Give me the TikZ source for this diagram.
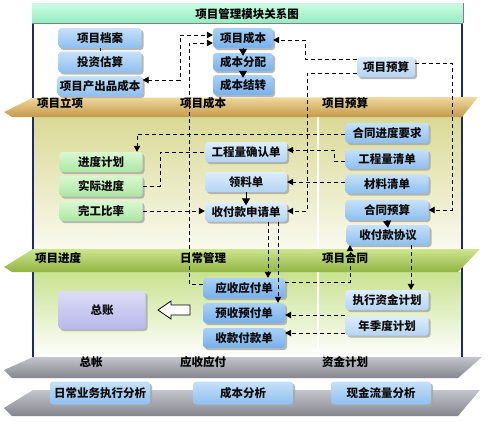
\documentclass[tikz,border=0pt]{standalone}
\usepackage{fontspec}
\newfontfamily\cjk{Noto Sans CJK SC}
\usetikzlibrary{shadows,arrows.meta,calc}
\definecolor{navyb}{HTML}{1C2A6E}
\definecolor{aT}{HTML}{C6E1FA}\definecolor{aB}{HTML}{8EBFEF}
\definecolor{bT}{HTML}{A9D1F8}\definecolor{bB}{HTML}{78B0EA}
\definecolor{cT}{HTML}{DDEDFB}\definecolor{cB}{HTML}{B4D4F3}
\definecolor{gT}{HTML}{DAF8D2}\definecolor{gB}{HTML}{ACE6A4}
\definecolor{lT}{HTML}{DCDCF8}\definecolor{lB}{HTML}{B8B8EA}
\definecolor{oT}{HTML}{F0D9A0}\definecolor{oM}{HTML}{D8B264}\definecolor{oB}{HTML}{C49A48}
\definecolor{grT}{HTML}{CDE58E}\definecolor{grM}{HTML}{B4D068}\definecolor{grB}{HTML}{94B444}
\definecolor{yT}{HTML}{C4C4CC}\definecolor{yM}{HTML}{A4A4AE}\definecolor{yB}{HTML}{86868F}
\definecolor{mT}{HTML}{CCFDE2}\definecolor{mB}{HTML}{94EBC2}
\begin{document}
\begin{tikzpicture}[x=1pt,y=-1pt,
  font=\cjk\bfseries\fontsize{11.5}{13}\selectfont,
  box/.style={rounded corners=3pt, inner sep=0pt, text=black!95,
    drop shadow={shadow xshift=2pt, shadow yshift=-2pt, fill=gray!70, opacity=0.8}},
  sz/.style n args={2}{minimum width=#1, minimum height=#2},
  ba/.style={box, top color=aT, bottom color=aB},
  bb/.style={box, top color=bT, bottom color=bB},
  bc/.style={box, top color=cT, bottom color=cB},
  bg/.style={box, top color=gT, bottom color=gB},
  bl/.style={box, top color=lT, bottom color=lB},
  lab/.style={inner sep=0pt, text=black},
  dl/.style={draw=black, line width=0.9pt, dash pattern=on 4pt off 3pt},
  arr/.style={-{Triangle[length=6pt,width=6.5pt]}},
  sarr/.style={draw=black, line width=1pt, -{Triangle[length=7pt,width=8pt]}}]
\useasboundingbox (0,0) rectangle (490,421);
\fill[white] (0,0) rectangle (490,421);
% panel
\fill[white] (33,23) rectangle (462,357);
\shade[top color=black!5!olive!28!white, bottom color=white!96!olive] (33,117) rectangle (462,250);
\shade[top color=olive!25!white!90!green, bottom color=white] (33,272) rectangle (462,357);
\draw[white, line width=1.5pt] (318,117) -- (318,250) (318,272) -- (318,350);
\draw[navyb, line width=1.8pt] (33,23) -- (33,357) (462,23) -- (462,357);
% title
\shade[top color=mT, bottom color=mB] (32,3) rectangle (463,23);
\draw[gray, line width=0.8pt] (32,23) -- (463,23) (463,3) -- (463,23);
\node[lab] (title) at (247,14) {项目管理模块关系图};
% bands
\shade[top color=oT, middle color=oM, bottom color=oB] (4,112) -- (32,98) -- (478,97) -- (462,117) -- (12,117) -- cycle;
\shade[top color=grT, middle color=grM, bottom color=grB] (4,267) -- (33,249) -- (480,249) -- (458,272) -- (12,272) -- cycle;
\shade[top color=yT, middle color=yM, bottom color=yB] (4,370) -- (33,357) -- (482,357) -- (458,378) -- (12,378) -- cycle;
\shade[top color=yT, middle color=yM, bottom color=yB] (4,408) -- (33,390) -- (480,390) -- (458,416) -- (12,416) -- cycle;
\node[lab] (l1) at (60,103) {项目立项};
\node[lab] (l2) at (203,103) {项目成本};
\node[lab] (l3) at (345,103) {项目预算};
\node[lab] (l4) at (58,258) {项目进度};
\node[lab] (l5) at (203,258) {日常管理};
\node[lab] (l6) at (345,258) {项目合同};
\node[lab] (l7) at (91,362) {总帐};
\node[lab] (l8) at (203,362) {应收应付};
\node[lab] (l9) at (345,362) {资金计划};
% top nodes
\node[ba, sz={83pt}{20pt}] (dangan) at (100,38) {项目档案};
\node[ba, sz={83pt}{21pt}] (guji) at (100,62) {投资估算};
\node[ba, sz={85pt}{20pt}] (chanchu) at (100,86) {项目产出品成本};
\node[bb, sz={60pt}{20pt}] (xmcb) at (243,38) {项目成本};
\node[bb, sz={60pt}{18pt}] (fenpei) at (243,62) {成本分配};
\node[bb, sz={60pt}{20pt}] (jiezhuan) at (243,85) {成本结转};
\node[bc, sz={58pt}{20pt}] (xmys) at (386,67) {项目预算};
% middle nodes
\node[bg, sz={83pt}{20pt}] (jdjh) at (101,162) {进度计划};
\node[bg, sz={83pt}{21pt}] (sjjd) at (101,186) {实际进度};
\node[bg, sz={83pt}{20pt}] (wgbl) at (101,211) {完工比率};
\node[bc, sz={82pt}{20pt}] (gclqr) at (246,152) {工程量确认单};
\node[bc, sz={82pt}{20pt}] (lld) at (246,182) {领料单};
\node[bc, sz={82pt}{19pt}] (sfksq) at (246,212) {收付款申请单};
\node[ba, sz={83pt}{20pt}] (htjd) at (387,133) {合同进度要求};
\node[ba, sz={83pt}{19pt}] (gclqd) at (387,159) {工程量清单};
\node[ba, sz={83pt}{19pt}] (clqd) at (387,184) {材料清单};
\node[ba, sz={83pt}{20pt}] (htys) at (387,210) {合同预算};
\node[ba, sz={83pt}{20pt}] (sfkxy) at (388,235) {收付款协议};
% lower nodes
\node[bl, sz={87pt}{38pt}] (zz) at (102,310) {总账};
\node[bb, sz={82pt}{20pt}] (ysyf) at (244,288) {应收应付单};
\node[bb, sz={82pt}{20pt}] (yuys) at (244,313) {预收预付单};
\node[bb, sz={82pt}{20pt}] (sksk) at (244,338) {收款付款单};
\node[bc, sz={83pt}{20pt}] (zxzj) at (387,300) {执行资金计划};
\node[bc, sz={83pt}{19pt}] (njd) at (387,326) {年季度计划};
% bottom nodes
\node[ba, sz={100pt}{23pt}] (rcyw) at (100,393) {日常业务执行分析};
\node[ba, sz={100pt}{23pt}] (cbfx) at (243,393) {成本分析};
\node[ba, sz={100pt}{23pt}] (xjll) at (381,393) {现金流量分析};
% hollow arrow to 总账
\draw[black, fill=white, line width=0.8pt] (158,310) -- (171,301) -- (171,305) -- (190,305) -- (190,315) -- (171,315) -- (171,319) -- cycle;
% solid arrows
\draw[sarr] (xmcb.south) -- ($(fenpei.north)+(0,3)$);
\draw[sarr] (fenpei.south) -- ($(jiezhuan.north)+(0,3)$);
\draw[sarr] (lld.south) -- ($(sfksq.north)+(0,3)$);
\draw[sarr] (htys.south) -- ($(sfkxy.north)+(0,3)$);
% dashed connectors
\draw[dl] (dangan.south) -- (guji.north);
\draw[dl, arr] (xmys.west |- 0,59) -- (305,59) -- (305,40) -- (xmcb.east |- 0,40);
\draw[dl, arr] (xmys.east |- 0,63) -- (452,63) -- (452,210) -- (htys.east);
\draw[dl, arr] (xmys.west |- 0,73) -- (307,73) -- (307,211) -- (sfksq.east |- 0,211);
\draw[dl, arr] (htjd.west |- 0,134) -- (137,134) -- (jdjh.north -| 137,0);
\draw[dl, arr] (gclqd.west |- 0,161) -- (334,161) -- (334,150) -- (gclqr.east |- 0,150);
\draw[dl, arr] (clqd.west |- 0,182) -- (lld.east |- 0,182);
\draw[dl] (sjjd.east) -- (160,186) -- (160,152) -- (gclqr.west);
\draw[dl, arr] (wgbl.east) -- (sfksq.west |- 0,211);
\draw[dl, {Triangle[length=6pt,width=6.5pt]}-{Triangle[length=6pt,width=6.5pt]}] (chanchu.east |- 0,80) -- (180,80) -- (180,35) -- (xmcb.west |- 0,35);
\draw[dl, arr] (ysyf.west |- 0,284) -- (189,284) -- (189,43) -- (xmcb.west |- 0,43);
\draw[dl, arr] (sfksq.south -| 268,0) -- (ysyf.north -| 268,0);
\draw[dl, arr] (sfksq.south -| 278,0) -- (yuys.north -| 278,0);
\draw[dl, arr] (ysyf.east |- 0,282) -- (350,282) -- (sfkxy.south -| 350,0);
\draw[dl, arr] (sfkxy.south -| 411,0) -- (zxzj.north -| 411,0);
\draw[dl, arr] (zxzj.west |- 0,315) -- (yuys.east |- 0,315);
\draw[dl, arr] (njd.west |- 0,333) -- (sksk.east |- 0,333);
\end{tikzpicture}
\end{document}
